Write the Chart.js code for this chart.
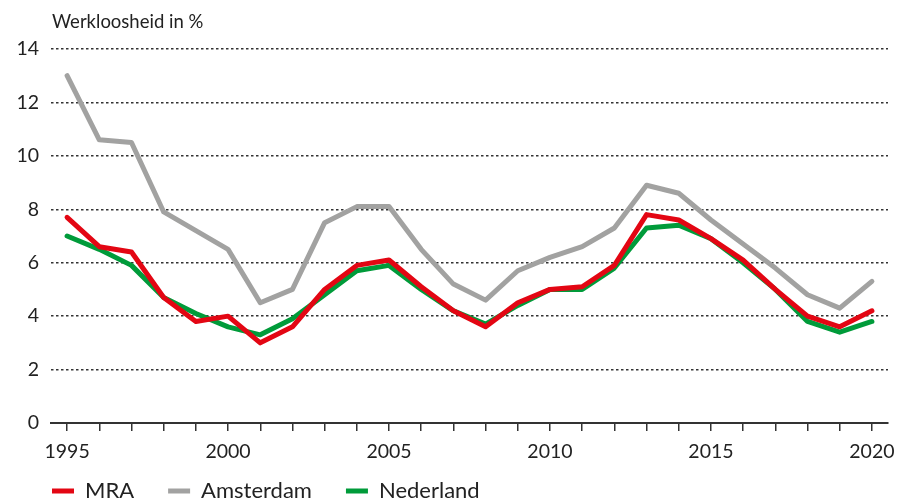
<!DOCTYPE html>
<html>
<head>
<meta charset="utf-8">
<script src="https://cdn.jsdelivr.net/npm/chart.js@4"></script>
<style>
  html, body { margin: 0; padding: 0; background: #fff; overflow: hidden; }
  #wrap { position: relative; width: 897px; height: 529px; }
  #title { position: absolute; left: 52px; top: 12px; font: 18.5px Lato, sans-serif; color: #222; line-height: 1; }
</style>
</head>
<body>
<div id="wrap">
  <div id="title">Werkloosheid in %</div>
  <canvas id="myChart"></canvas>
</div>
<script>
'use strict';

// data
let years = ['1995', '1996', '1997', '1998', '1999', '2000', '2001', '2002', '2003', '2004', '2005', '2006', '2007',
  '2008', '2009', '2010', '2011', '2012', '2013', '2014', '2015', '2016', '2017', '2018', '2019', '2020'];
let mra = [7.7, 6.6, 6.4, 4.7, 3.8, 4.0, 3.0, 3.6, 5.0, 5.9, 6.1, 5.1, 4.2, 3.6, 4.5, 5.0, 5.1, 5.9, 7.8, 7.6, 6.9, 6.1, 5.0, 4.0, 3.6, 4.2];
let amsterdam = [13.0, 10.6, 10.5, 7.9, 7.2, 6.5, 4.5, 5.0, 7.5, 8.1, 8.1, 6.5, 5.2, 4.6, 5.7, 6.2, 6.6, 7.3, 8.9, 8.6, 7.6, 6.7, 5.8, 4.8, 4.3, 5.3];
let nederland = [7.0, 6.5, 5.9, 4.7, 4.1, 3.6, 3.3, 3.9, 4.8, 5.7, 5.9, 5.0, 4.2, 3.7, 4.4, 5.0, 5.0, 5.8, 7.3, 7.4, 6.9, 6.0, 5.0, 3.8, 3.4, 3.8];
let yMin = 0;
let yMax = 14;
let yStep = 2;

let textColor = '#222';

function line(label, data, color) {
  return {
    label: label,
    data: data,
    borderColor: color,
    backgroundColor: color,
    borderWidth: 5,
    borderCapStyle: 'round',
    borderJoinStyle: 'round',
    pointRadius: 0,
    tension: 0
  };
}

// pull the legend up a bit so it sits close under the year labels
let legendShift = {
  id: 'legendShift',
  afterLayout: function (chart) {
    let lg = chart.legend;
    lg.top -= 17;
    lg.bottom -= 17;
  }
};

let config = {
  type: 'line',
  data: {
    labels: years,
    datasets: [
      line('MRA', mra, '#e30613'),
      line('Amsterdam', amsterdam, '#a2a2a1'),
      line('Nederland', nederland, '#009b3a')
    ]
  },
  options: {
    responsive: true,
    maintainAspectRatio: false,
    animation: false,
    layout: { padding: { top: 49, left: 18, right: 9, bottom: 0 } },
    plugins: {
      legend: {
        position: 'bottom',
        align: 'start',
        labels: {
          usePointStyle: true,
          pointStyle: 'line',
          pointStyleWidth: 22,
          padding: 34,
          color: textColor,
          font: { family: 'Lato', size: 22 }
        }
      },
      title: { display: false },
      tooltip: { enabled: false }
    },
    scales: {
      x: {
        offset: true,
        afterFit: function (scale) {
          scale.height = 40;
          // the half-step offset already leaves room for the end labels
          scale.paddingLeft = 0;
          scale.paddingRight = 0;
        },
        grid: {
          offset: false,
          drawOnChartArea: false,
          drawTicks: true,
          tickLength: 8,
          color: '#333',
          lineWidth: 1.5
        },
        border: { display: true, color: '#333', width: 2 },
        ticks: {
          autoSkip: false,
          maxRotation: 0,
          padding: 9,
          color: textColor,
          font: { family: 'Lato', size: 19.5 },
          callback: function (value) {
            let year = this.getLabelForValue(value);
            return Number(year) % 5 === 0 ? year : '';
          }
        }
      },
      y: {
        min: yMin,
        max: yMax,
        afterFit: function (scale) { scale.width = 33; },
        border: { display: false, dash: [2.5, 2.5] },
        grid: {
          drawTicks: false,
          color: function (ctx) { return ctx.tick && ctx.tick.value === 0 ? 'rgba(0,0,0,0)' : '#333'; },
          lineWidth: 1.5
        },
        ticks: {
          stepSize: yStep,
          padding: 12,
          color: textColor,
          font: { family: 'Lato', size: 19.5 }
        }
      }
    }
  },
  plugins: [legendShift]
};

const ctx = document.getElementById('myChart').getContext('2d');
const myChart = new Chart(ctx, config);
</script>
</body>
</html>
